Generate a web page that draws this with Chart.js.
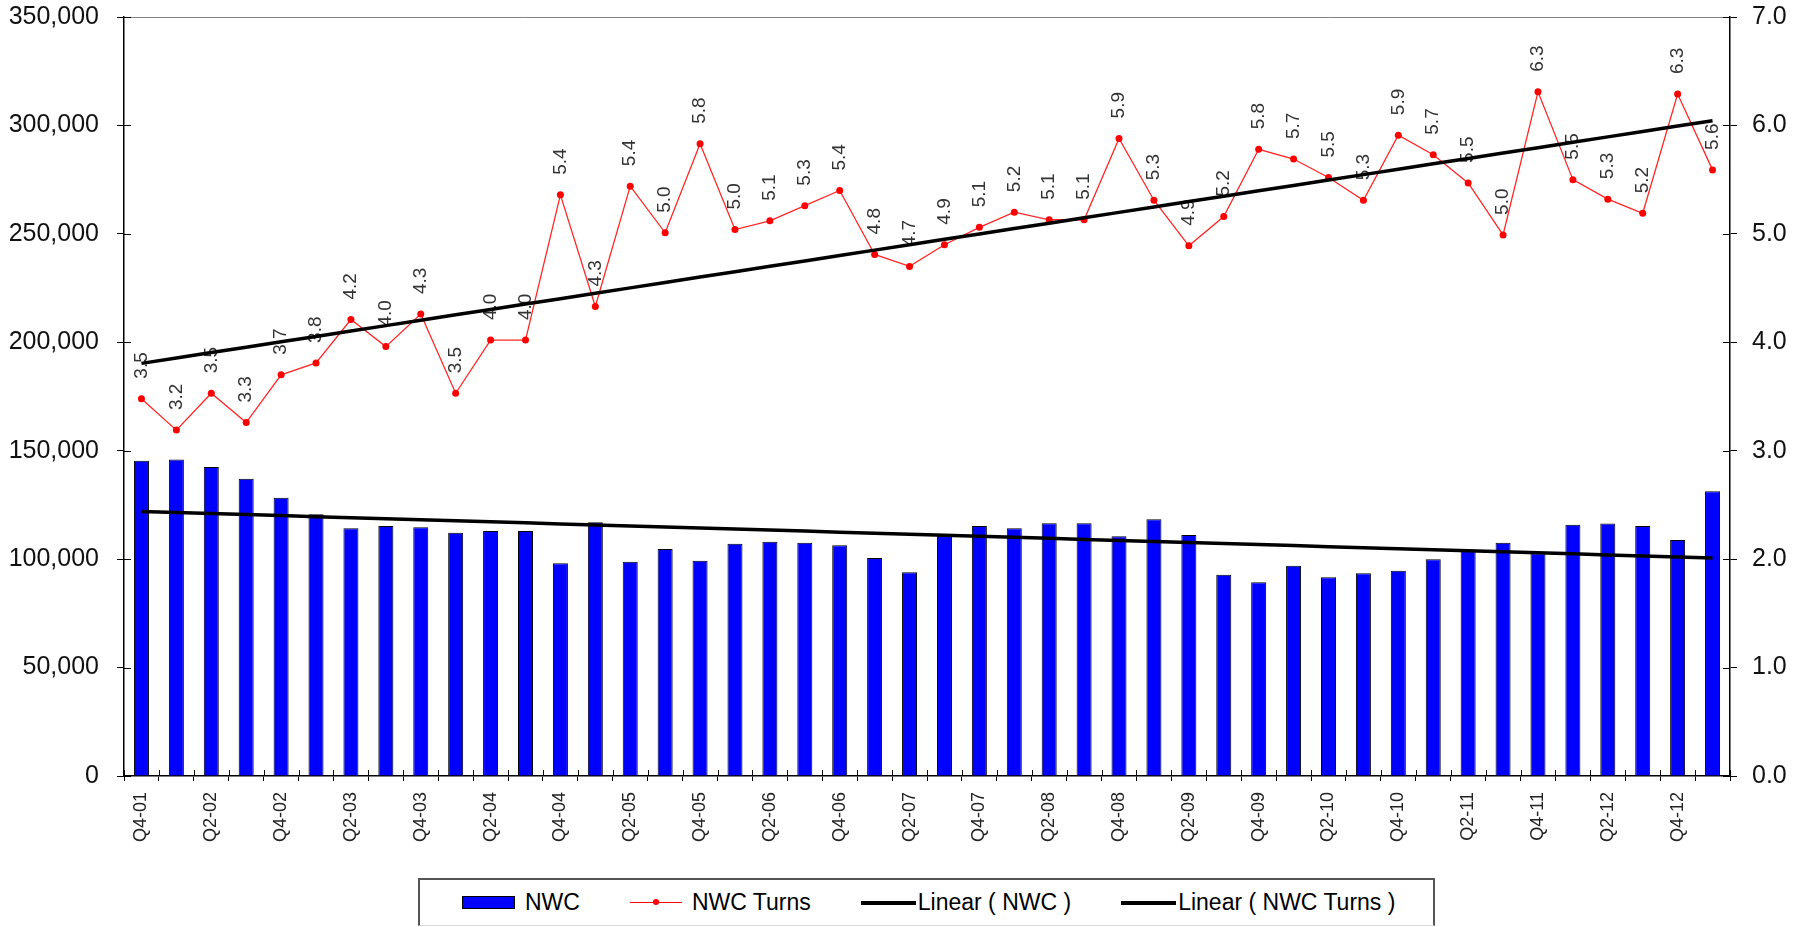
<!DOCTYPE html>
<html>
<head>
<meta charset="utf-8">
<title>NWC and NWC Turns</title>
<script src="https://cdn.jsdelivr.net/npm/chart.js@4/dist/chart.umd.min.js"></script>
<style>
  html, body { margin: 0; padding: 0; background: #fff; overflow: hidden; }
  #wrap { position: relative; width: 1807px; height: 927px; }
  #chart { position: absolute; left: 0; top: 0; }
  #legend {
    position: absolute; left: 418px; top: 878px; width: 1017px; height: 48px;
    box-sizing: border-box; border: 2px solid #555; border-bottom: 1px solid #ddd;
    background: #fff; display: flex; align-items: center; padding-left: 42px;
    font-family: "Liberation Sans", Arial, sans-serif; font-size: 23px; color: #000;
  }
  .item { display: flex; align-items: center; }
  .item + .item { margin-left: 50px; }
  .swatch { position: relative; flex: none; }
</style>
</head>
<body>
<div id="wrap">
  <canvas id="chart" width="1807" height="927"></canvas>
  <div id="legend"></div>
</div>
<script>
// Quarter categories
const quarters = [
  'Q4-01',
  'Q1-02','Q2-02','Q3-02','Q4-02',
  'Q1-03','Q2-03','Q3-03','Q4-03',
  'Q1-04','Q2-04','Q3-04','Q4-04',
  'Q1-05','Q2-05','Q3-05','Q4-05',
  'Q1-06','Q2-06','Q3-06','Q4-06',
  'Q1-07','Q2-07','Q3-07','Q4-07',
  'Q1-08','Q2-08','Q3-08','Q4-08',
  'Q1-09','Q2-09','Q3-09','Q4-09',
  'Q1-10','Q2-10','Q3-10','Q4-10',
  'Q1-11','Q2-11','Q3-11','Q4-11',
  'Q1-12','Q2-12','Q3-12','Q4-12',
  'Q1-13'
];

// Net working capital per quarter
const nwc = [
  145400, 146000, 142500, 137100, 128300, 120700, 114200, 115300, 114700, 112200,
  113000, 113000,  98100, 117000,  98800, 104700,  99300, 107100, 108000, 107600,
  106400, 100500,  93900, 110700, 115300, 114200, 116500, 116500, 110500, 118400,
  111100,  92800,  89300,  97000,  91600,  93500,  94700,  99900, 103800, 107600,
  102700, 115900, 116400, 115300, 108800, 131300
];

// NWC turns per quarter
const nwcTurns = [
  3.48, 3.19, 3.53, 3.26, 3.70, 3.81, 4.21, 3.96, 4.26, 3.53,
  4.02, 4.02, 5.36, 4.33, 5.44, 5.01, 5.83, 5.04, 5.12, 5.26,
  5.40, 4.81, 4.70, 4.90, 5.06, 5.20, 5.13, 5.13, 5.88, 5.31,
  4.89, 5.16, 5.78, 5.69, 5.52, 5.31, 5.91, 5.73, 5.47, 4.99,
  6.31, 5.50, 5.32, 5.19, 6.29, 5.59
];

// Axis ranges
const leftAxis = { min: 0, max: 350000, step: 50000 };
const rightAxis = { min: 0, max: 7, step: 1 };

// Least-squares linear trend over the category index
function linearTrend(values) {
  const n = values.length;
  let sx = 0, sy = 0, sxx = 0, sxy = 0;
  values.forEach((v, i) => { sx += i; sy += v; sxx += i * i; sxy += i * v; });
  const slope = (n * sxy - sx * sy) / (n * sxx - sx * sx);
  const intercept = (sy - slope * sx) / n;
  return values.map((_, i) => intercept + slope * i);
}

const FONT = '"Liberation Sans", Arial, sans-serif';

// Small crossing tick stubs inside the plot + grey top frame line
const axisStubs = {
  id: 'axisStubs',
  afterDraw(chart) {
    const { ctx, chartArea: a, scales } = chart;
    ctx.save();
    ctx.strokeStyle = '#808080';
    ctx.lineWidth = 1;
    ctx.beginPath();
    ctx.moveTo(a.left, a.top + 0.5);
    ctx.lineTo(a.right, a.top + 0.5);
    ctx.stroke();
    ctx.strokeStyle = '#000';
    ctx.beginPath();
    scales.y.ticks.forEach((t, i) => {
      const y = Math.round(scales.y.getPixelForTick(i)) + 0.5;
      ctx.moveTo(a.left, y); ctx.lineTo(a.left + 7, y);
    });
    scales.y1.ticks.forEach((t, i) => {
      const y = Math.round(scales.y1.getPixelForTick(i)) + 0.5;
      ctx.moveTo(a.right - 7, y); ctx.lineTo(a.right, y);
    });
    const n = chart.data.labels.length;
    for (let i = 0; i <= n; i++) {
      const x = Math.round(a.left + (a.right - a.left) * i / n) + 0.5;
      ctx.moveTo(x, a.bottom - 6); ctx.lineTo(x, a.bottom);
    }
    ctx.stroke();
    ctx.restore();
  }
};

// Vertical value labels above the NWC Turns points
const turnLabels = {
  id: 'turnLabels',
  afterDatasetDraw(chart, args) {
    if (args.index !== 1) return;
    const { ctx } = chart;
    const ds = chart.data.datasets[1];
    ctx.save();
    ctx.font = '19px ' + FONT;
    ctx.fillStyle = '#333';
    ctx.textAlign = 'left';
    ctx.textBaseline = 'middle';
    args.meta.data.forEach((pt, i) => {
      ctx.save();
      ctx.translate(pt.x, pt.y - 20);
      ctx.rotate(-Math.PI / 2);
      ctx.fillText(ds.data[i].toFixed(1), 0, 0);
      ctx.restore();
    });
    ctx.restore();
  }
};

// Fixed axis sizes so the plot area keeps its place
function fixVertical(width) {
  return scale => { scale.width = width; scale.paddingTop = 0; scale.paddingBottom = 0; };
}

const chart = new Chart(document.getElementById('chart'), {
  type: 'bar',
  data: {
    labels: quarters,
    datasets: [
      {
        type: 'bar', label: 'NWC', data: nwc, yAxisID: 'y', order: 3,
        backgroundColor: '#0000ff', borderColor: '#000', borderWidth: 1,
        barPercentage: 0.43, categoryPercentage: 1
      },
      {
        type: 'line', label: 'NWC Turns', data: nwcTurns, yAxisID: 'y1', order: 2,
        borderColor: 'rgba(255,0,0,0.85)', borderWidth: 1.3, tension: 0,
        pointRadius: 3.5, pointBackgroundColor: '#ff0000', pointBorderWidth: 0,
        pointStyle: 'circle'
      },
      {
        type: 'line', label: 'Linear ( NWC )', data: linearTrend(nwc), yAxisID: 'y', order: 1,
        borderColor: '#000', borderWidth: 3.5, pointRadius: 0, tension: 0
      },
      {
        type: 'line', label: 'Linear ( NWC Turns )', data: linearTrend(nwcTurns), yAxisID: 'y1', order: 0,
        borderColor: '#000', borderWidth: 3.5, pointRadius: 0, tension: 0
      }
    ]
  },
  options: {
    responsive: false,
    animation: false,
    layout: { padding: { top: 17, left: 0, right: 0, bottom: 0 } },
    plugins: { legend: { display: false }, tooltip: { enabled: false } },
    scales: {
      x: {
        offset: true,
        grid: { offset: true, drawOnChartArea: false, tickLength: 5, color: '#000', lineWidth: 1 },
        border: { display: true, color: '#000', width: 1.5 },
        ticks: {
          autoSkip: false, minRotation: 90, maxRotation: 90, padding: 11,
          color: '#222', font: { family: FONT, size: 18 },
          callback(value, index) { return index % 2 === 0 ? this.getLabelForValue(value) : ''; }
        },
        afterFit(scale) { scale.height = 151; scale.paddingLeft = 0; scale.paddingRight = 0; }
      },
      y: {
        position: 'left',
        min: leftAxis.min, max: leftAxis.max,
        grid: { drawOnChartArea: false, tickLength: 7, color: '#000', lineWidth: 1 },
        border: { display: true, color: '#000', width: 1.5 },
        ticks: {
          stepSize: leftAxis.step, padding: 18, color: '#111',
          font: { family: FONT, size: 25 },
          callback: v => v.toLocaleString('en-US')
        },
        afterFit: fixVertical(124)
      },
      y1: {
        position: 'right',
        min: rightAxis.min, max: rightAxis.max,
        grid: { drawOnChartArea: false, tickLength: 7, color: '#000', lineWidth: 1 },
        border: { display: true, color: '#000', width: 1.5 },
        ticks: {
          stepSize: rightAxis.step, padding: 15, color: '#111',
          font: { family: FONT, size: 25 },
          callback: v => v.toFixed(1)
        },
        afterFit: fixVertical(77)
      }
    }
  },
  plugins: [axisStubs, turnLabels]
});

// HTML legend built from the datasets
(function buildLegend() {
  const legend = document.getElementById('legend');
  chart.data.datasets.forEach(ds => {
    const item = document.createElement('div');
    item.className = 'item';
    const sw = document.createElement('div');
    sw.className = 'swatch';
    const text = document.createElement('span');
    text.textContent = ds.label;
    if (ds.type === 'bar') {
      sw.style.cssText = 'width:51px;height:11px;background:' + ds.backgroundColor + ';border:1px solid #000;margin-right:10px;';
    } else if (ds.pointRadius > 0) {
      sw.style.cssText = 'width:52px;height:1.5px;background:' + ds.pointBackgroundColor + ';margin-right:10px;';
      const dot = document.createElement('div');
      dot.style.cssText = 'position:absolute;left:23px;top:-2.5px;width:6px;height:6px;border-radius:50%;background:' + ds.pointBackgroundColor + ';';
      sw.appendChild(dot);
    } else {
      sw.style.cssText = 'width:55px;height:4px;background:' + ds.borderColor + ';margin-right:2px;';
    }
    item.appendChild(sw);
    item.appendChild(text);
    legend.appendChild(item);
  });
})();
</script>
</body>
</html>
